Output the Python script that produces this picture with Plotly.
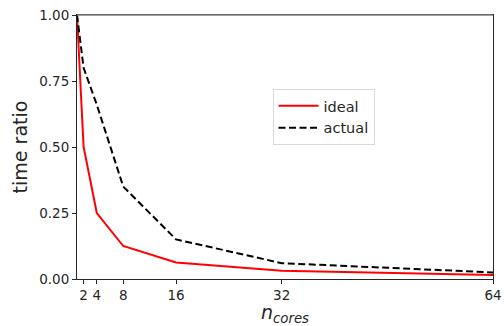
import plotly.graph_objects as go

# core counts and normalized run time
n_cores = [1, 2, 4, 8, 16, 32, 64]
ideal = [1.0, 0.5, 0.25, 0.125, 0.0625, 0.03125, 0.015625]
actual = [1.0, 0.80, 0.66, 0.35, 0.15, 0.06, 0.025]

x_ticks = [2, 4, 8, 16, 32, 64]
y_ticks = [0.0, 0.25, 0.5, 0.75, 1.0]

font_family = "DejaVu Sans"

fig = go.Figure()
fig.add_trace(go.Scatter(x=n_cores, y=ideal, mode="lines", name="ideal",
                         line=dict(color="#ff0000", width=2)))
fig.add_trace(go.Scatter(x=n_cores, y=actual, mode="lines", name="actual",
                         line=dict(color="#000000", width=2, dash="7px,3.5px")))

fig.update_layout(
    width=504, height=326,
    margin=dict(l=77, r=11, t=15, b=47),
    paper_bgcolor="white", plot_bgcolor="white",
    font=dict(family=font_family, color="#262626", size=13),
    showlegend=True,
    legend=dict(x=0.47, y=0.72, xanchor="left", yanchor="top",
                bgcolor="white", bordercolor="#d9d9d9", borderwidth=1,
                font=dict(size=14.5, color="#262626"),
                tracegroupgap=0, itemwidth=40),
    xaxis=dict(range=[1, 64], tickvals=x_ticks, ticktext=[str(v) for v in x_ticks],
               showgrid=False, zeroline=False, showline=True, linecolor="#262626",
               linewidth=1, mirror=True, ticks="outside", ticklen=4, tickcolor="#262626",
               tickfont=dict(size=13.5), automargin=False,
               title=dict(text="<i>n</i><sub><i>cores</i></sub>", font=dict(size=19),
                          standoff=6)),
    yaxis=dict(range=[0, 1], tickvals=y_ticks, tickformat=".2f",
               showgrid=False, zeroline=False, showline=True, linecolor="#262626",
               linewidth=1, mirror=True, ticks="outside", ticklen=4, tickcolor="#262626",
               tickfont=dict(size=13.5), automargin=False,
               title=dict(text="time ratio", font=dict(size=19), standoff=6)),
)

# lighter top frame edge
fig.add_shape(type="line", xref="paper", yref="paper", x0=0, x1=1, y0=1, y1=1,
              line=dict(color="#808080", width=1.5))

fig.write_html("out.html")
